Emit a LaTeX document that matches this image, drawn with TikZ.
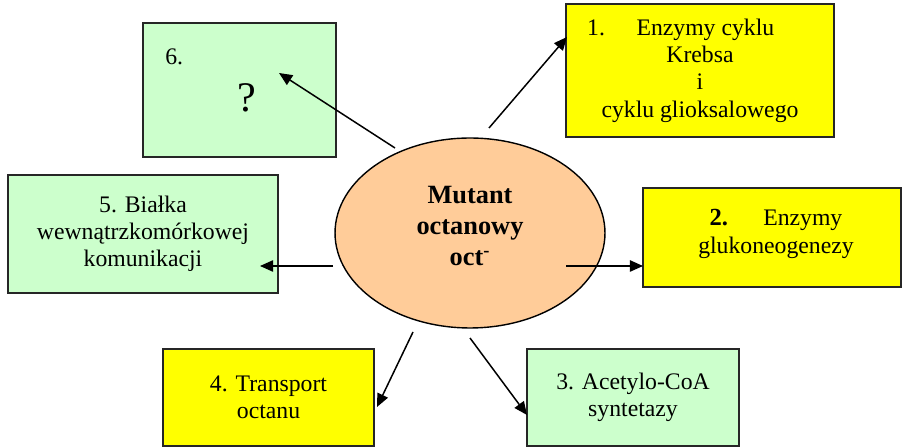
\documentclass[tikz,border=0pt]{standalone}
\usepackage{fontspec}
\setmainfont{Liberation Serif}
\usetikzlibrary{arrows.meta,shapes.geometric,positioning}
\definecolor{boxgreen}{HTML}{CCFFCC}
\definecolor{boxyellow}{HTML}{FFFF00}
\definecolor{ellorange}{HTML}{FFCC99}

\begin{document}
\begin{tikzpicture}[x=0.02cm,y=-0.02cm]
 \tikzset{box/.style={draw=black!85,line width=0.75pt,inner sep=0pt,align=center,
        font=\fontsize{13.5}{15.5}\selectfont}}
 \tikzset{arr/.style={-{Triangle[length=7.5pt,width=6.5pt]},line width=0.85pt}}
 \useasboundingbox (0,0) rectangle (902,448);

 % central ellipse
 \node[ellipse,draw,line width=0.8pt,fill=ellorange,minimum width=5.4cm,minimum height=3.8cm] (mut) at (470,233) {};
 \node[align=center,inner sep=0pt,font=\fontsize{15}{17.8}\selectfont\bfseries] (mut-txt) at (470,226)
    {Mutant\\octanowy\\oct\textsuperscript{-}};

 % boxes
 \node[box,fill=boxyellow,minimum width=5.36cm,minimum height=2.66cm] (enz1) at (700,70.5)
    {1.\hspace{18pt}Enzymy cyklu\hspace*{22pt}\\Krebsa\\i\\cyklu glioksalowego};
 \node[box,fill=boxyellow,minimum width=5.16cm,minimum height=1.98cm] (enz2) at (772,237.5) {};
 \node[align=center,inner sep=0pt,font=\fontsize{13.5}{15.5}\selectfont] (enz2-txt) at (776,234)
    {{\fontsize{14}{15.5}\selectfont\bfseries 2.}\hspace{20pt}Enzymy\\glukoneogenezy};
 \node[box,fill=boxgreen,minimum width=4.24cm,minimum height=1.94cm] (acs) at (633,397.5)
    {3. Acetylo-CoA\\syntetazy};
 \node[box,fill=boxyellow,minimum width=4.22cm,minimum height=1.94cm] (trans) at (268.5,397.5)
    {4. Transport\\octanu};
 \node[box,fill=boxgreen,minimum width=5.4cm,minimum height=2.36cm] (bial) at (143,234)
    {5. Białka\\wewnątrzkomórkowej\\komunikacji};
 \node[box,fill=boxgreen,minimum width=3.86cm,minimum height=2.68cm] (unk) at (239.5,90) {};
 \node[anchor=base west,inner sep=0pt,font=\fontsize{13.5}{15.5}\selectfont] (unk-num) at (165,65) {6.};
 \node[anchor=base,inner sep=0pt,font=\fontsize{24}{28}\selectfont] (unk-q) at (247,112) {?};

 % arrow ends
 \coordinate (from1) at (489,128);  \coordinate (to1) at (567,37);
 \coordinate (from2) at (566,266);  \coordinate (to2) at (643,266);
 \coordinate (from3) at (470,338);  \coordinate (to3) at (527,415);
 \coordinate (from4) at (413,332);  \coordinate (to4) at (377,407);
 \coordinate (from5) at (333,266);  \coordinate (to5) at (260,266);
 \coordinate (from6) at (395,148);  \coordinate (to6) at (279,73);

 \foreach \i in {1,...,6}
    \draw[arr] (from\i) -- (to\i);
\end{tikzpicture}
\end{document}
